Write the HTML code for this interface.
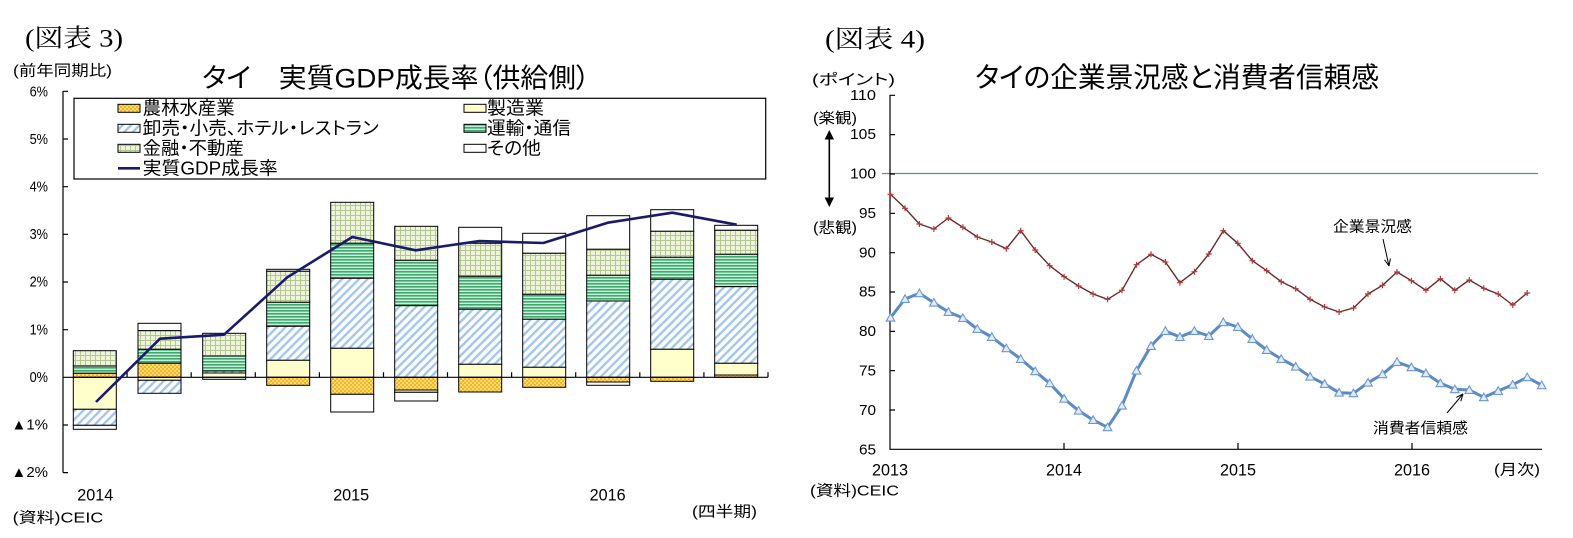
<!DOCTYPE html>
<html><head><meta charset="utf-8">
<style>
body{margin:0;background:#fff}
svg{display:block}
text{font-family:"Liberation Sans","Noto Sans CJK JP",sans-serif;fill:#000;font-feature-settings:"palt"}
.s{font-family:"Liberation Serif","Noto Serif CJK JP",serif}
</style></head>
<body>
<svg width="1573" height="538" viewBox="0 0 1573 538" xmlns="http://www.w3.org/2000/svg">
<defs>
<pattern id="pOr" width="4" height="4" patternUnits="userSpaceOnUse"><rect width="4" height="4" fill="#f2b52c"/><rect width="2" height="2" fill="#fcdc70"/><rect x="2" y="2" width="2" height="2" fill="#fcdc70"/></pattern>
<pattern id="pGr" width="4" height="3" patternUnits="userSpaceOnUse"><rect width="4" height="3" fill="#c8eed8"/><rect y="1" width="4" height="1.6" fill="#3faa70"/></pattern>
<pattern id="pBl" width="6" height="6" patternUnits="userSpaceOnUse" patternTransform="rotate(45)"><rect width="6" height="6" fill="#fff"/><rect width="2.4" height="6" fill="#a3c6ea"/></pattern>
<pattern id="pGd" width="5" height="5" patternUnits="userSpaceOnUse"><rect width="5" height="5" fill="#eef3dc"/><path d="M0 .5H5M.5 0V5" stroke="#b5c790" stroke-width="1"/></pattern>
<marker id="mp" markerWidth="8" markerHeight="8" refX="4" refY="4" markerUnits="userSpaceOnUse"><path d="M1 4H7M4 1V7" stroke="#b33a3a" stroke-width="1.2"/></marker>
<marker id="mt" markerWidth="12" markerHeight="12" refX="6" refY="6" markerUnits="userSpaceOnUse"><path d="M6 1.8L10.3 9.4H1.7Z" fill="#e4ecf7" stroke="#6a98d0" stroke-width="1.1"/></marker>
<marker id="ma" markerWidth="12" markerHeight="12" refX="10" refY="6" orient="auto" markerUnits="userSpaceOnUse"><path d="M10 6L3 3M10 6L3 9" stroke="#000" stroke-width="1" fill="none"/></marker>
</defs>
<rect width="1573" height="538" fill="#fff"/>

<!-- ============ LEFT CHART ============ -->
<text class="s" x="25" y="39" font-size="25" dominant-baseline="central" textLength="98" lengthAdjust="spacingAndGlyphs">(図表 3)</text>
<text x="13" y="71" font-size="15" dominant-baseline="central" textLength="99" lengthAdjust="spacingAndGlyphs">(前年同期比)</text>
<text x="202" y="78.5" font-size="27" dominant-baseline="central" textLength="388" lengthAdjust="spacingAndGlyphs">タイ　実質GDP成長率（供給側）</text>

<!-- y labels -->
<g font-size="15" text-anchor="end" dominant-baseline="central">
<text x="48" y="92" textLength="18.4" lengthAdjust="spacingAndGlyphs">6%</text>
<text x="48" y="139.5" textLength="18.4" lengthAdjust="spacingAndGlyphs">5%</text>
<text x="48" y="187" textLength="18.4" lengthAdjust="spacingAndGlyphs">4%</text>
<text x="48" y="234.5" textLength="18.4" lengthAdjust="spacingAndGlyphs">3%</text>
<text x="48" y="282" textLength="18.4" lengthAdjust="spacingAndGlyphs">2%</text>
<text x="48" y="330" textLength="18.4" lengthAdjust="spacingAndGlyphs">1%</text>
<text x="48" y="377.5" textLength="18.4" lengthAdjust="spacingAndGlyphs">0%</text>
<text x="48" y="425" textLength="36.5" lengthAdjust="spacingAndGlyphs">▲1%</text>
<text x="48" y="472.5" textLength="36.5" lengthAdjust="spacingAndGlyphs">▲2%</text>
</g>

<!-- bars -->
<g stroke="#000" stroke-width="1">
<rect x="73.3" y="350.7" width="43" height="15.3" fill="url(#pGd)"/>
<rect x="73.3" y="366" width="43" height="7.3" fill="url(#pGr)"/>
<rect x="73.3" y="373.3" width="43" height="4" fill="url(#pOr)"/>
<rect x="73.3" y="377.3" width="43" height="32" fill="#ffffcc"/>
<rect x="73.3" y="409.3" width="43" height="16" fill="url(#pBl)"/>
<rect x="73.3" y="425.3" width="43" height="4" fill="#fff"/>

<rect x="138" y="323.3" width="43" height="7.4" fill="#fff"/>
<rect x="138" y="330.7" width="43" height="18.6" fill="url(#pGd)"/>
<rect x="138" y="349.3" width="43" height="14" fill="url(#pGr)"/>
<rect x="138" y="363.3" width="43" height="14" fill="url(#pOr)"/>
<rect x="138" y="377.3" width="43" height="3" fill="#ffffcc"/>
<rect x="138" y="380.3" width="43" height="13" fill="url(#pBl)"/>

<rect x="202.7" y="333.3" width="43" height="22.7" fill="url(#pGd)"/>
<rect x="202.7" y="356" width="43" height="15" fill="url(#pGr)"/>
<rect x="202.7" y="371" width="43" height="2" fill="url(#pBl)"/>
<rect x="202.7" y="373" width="43" height="4.3" fill="#ffffcc"/>
<rect x="202.7" y="377.3" width="43" height="2" fill="#fff"/>

<rect x="266.7" y="269.3" width="43" height="2" fill="#fff"/>
<rect x="266.7" y="271.3" width="43" height="31" fill="url(#pGd)"/>
<rect x="266.7" y="302.3" width="43" height="24" fill="url(#pGr)"/>
<rect x="266.7" y="326.3" width="43" height="34" fill="url(#pBl)"/>
<rect x="266.7" y="360.3" width="43" height="17" fill="#ffffcc"/>
<rect x="266.7" y="377.3" width="43" height="8" fill="url(#pOr)"/>

<rect x="330.7" y="202.3" width="43" height="41" fill="url(#pGd)"/>
<rect x="330.7" y="243.3" width="43" height="35" fill="url(#pGr)"/>
<rect x="330.7" y="278.3" width="43" height="70" fill="url(#pBl)"/>
<rect x="330.7" y="348.3" width="43" height="29" fill="#ffffcc"/>
<rect x="330.7" y="377.3" width="43" height="17" fill="url(#pOr)"/>
<rect x="330.7" y="394.3" width="43" height="17.7" fill="#fff"/>

<rect x="394.7" y="226.3" width="43" height="34" fill="url(#pGd)"/>
<rect x="394.7" y="260.3" width="43" height="45.4" fill="url(#pGr)"/>
<rect x="394.7" y="305.7" width="43" height="71.6" fill="url(#pBl)"/>
<rect x="394.7" y="377.3" width="43" height="12.7" fill="url(#pOr)"/>
<rect x="394.7" y="390" width="43" height="2.3" fill="#ffffcc"/>
<rect x="394.7" y="392.3" width="43" height="8.7" fill="#fff"/>

<rect x="458.7" y="227.3" width="43" height="16" fill="#fff"/>
<rect x="458.7" y="243.3" width="43" height="33" fill="url(#pGd)"/>
<rect x="458.7" y="276.3" width="43" height="33" fill="url(#pGr)"/>
<rect x="458.7" y="309.3" width="43" height="55" fill="url(#pBl)"/>
<rect x="458.7" y="364.3" width="43" height="13" fill="#ffffcc"/>
<rect x="458.7" y="377.3" width="43" height="14.7" fill="url(#pOr)"/>

<rect x="522.7" y="233.3" width="43" height="20" fill="#fff"/>
<rect x="522.7" y="253.3" width="43" height="41" fill="url(#pGd)"/>
<rect x="522.7" y="294.3" width="43" height="25" fill="url(#pGr)"/>
<rect x="522.7" y="319.3" width="43" height="48" fill="url(#pBl)"/>
<rect x="522.7" y="367.3" width="43" height="10" fill="#ffffcc"/>
<rect x="522.7" y="377.3" width="43" height="10" fill="url(#pOr)"/>

<rect x="586.7" y="215.7" width="43" height="33.6" fill="#fff"/>
<rect x="586.7" y="249.3" width="43" height="26" fill="url(#pGd)"/>
<rect x="586.7" y="275.3" width="43" height="25.7" fill="url(#pGr)"/>
<rect x="586.7" y="301" width="43" height="76.3" fill="url(#pBl)"/>
<rect x="586.7" y="377.3" width="43" height="4.7" fill="url(#pOr)"/>
<rect x="586.7" y="382" width="43" height="3.3" fill="#fff"/>

<rect x="650.7" y="209.7" width="43" height="21.6" fill="#fff"/>
<rect x="650.7" y="231.3" width="43" height="26" fill="url(#pGd)"/>
<rect x="650.7" y="257.3" width="43" height="22" fill="url(#pGr)"/>
<rect x="650.7" y="279.3" width="43" height="70" fill="url(#pBl)"/>
<rect x="650.7" y="349.3" width="43" height="28" fill="#ffffcc"/>
<rect x="650.7" y="377.3" width="43" height="4" fill="url(#pOr)"/>

<rect x="714.7" y="225.3" width="43" height="5" fill="#fff"/>
<rect x="714.7" y="230.3" width="43" height="24" fill="url(#pGd)"/>
<rect x="714.7" y="254.3" width="43" height="32.4" fill="url(#pGr)"/>
<rect x="714.7" y="286.7" width="43" height="76.6" fill="url(#pBl)"/>
<rect x="714.7" y="363.3" width="43" height="11.7" fill="#ffffcc"/>
<rect x="714.7" y="375" width="43" height="2.3" fill="url(#pOr)"/>
</g>

<!-- axes -->
<g stroke="#000" stroke-width="1.2" fill="none">
<path d="M63 91V472.6"/>
<path d="M63 91.3H68M63 139H68M63 186.7H68M63 234.3H68M63 282H68M63 329.7H68M63 425H68M63 472.6H68"/>
<path d="M63 377.3H768"/>
<path d="M127.1 372.3V377.3M191.2 372.3V377.3M255.3 372.3V377.3M319.4 372.3V377.3M383.5 372.3V377.3M447.5 372.3V377.3M511.6 372.3V377.3M575.7 372.3V377.3M639.8 372.3V377.3M703.9 372.3V377.3M768 372.3V377.3"/>
</g>

<!-- GDP line -->
<polyline points="96,402 160,338.7 224,334.7 287.3,277.3 352.3,237 415.7,250.3 479.3,241 543.3,243 607.7,222.7 672.3,212.7 736.7,224.7" fill="none" stroke="#1a1a6c" stroke-width="2.6" stroke-linejoin="round"/>

<!-- legend -->
<rect x="74" y="98.3" width="691.7" height="80.7" fill="#fff" stroke="#000" stroke-width="1.2"/>
<g stroke="#000" stroke-width="1">
<rect x="118" y="104.3" width="22" height="8" fill="url(#pOr)"/>
<rect x="118" y="124.3" width="22" height="8" fill="url(#pBl)"/>
<rect x="118" y="144.3" width="22" height="8" fill="url(#pGd)"/>
<rect x="464" y="104.3" width="22" height="8" fill="#ffffcc"/>
<rect x="464" y="124.3" width="22" height="8" fill="url(#pGr)"/>
<rect x="464" y="144.3" width="22" height="8" fill="#fff"/>
</g>
<path d="M118 168.3H140" stroke="#1a1a6c" stroke-width="2.6"/>
<g font-size="18" dominant-baseline="central">
<text x="142.7" y="108.5" textLength="92" lengthAdjust="spacingAndGlyphs">農林水産業</text>
<text x="142.7" y="128.5" textLength="236" lengthAdjust="spacingAndGlyphs">卸売・小売、ホテル・レストラン</text>
<text x="142.7" y="148.5" textLength="101" lengthAdjust="spacingAndGlyphs">金融・不動産</text>
<text x="142.7" y="168.5" textLength="135" lengthAdjust="spacingAndGlyphs">実質GDP成長率</text>
<text x="487" y="108.5" textLength="57" lengthAdjust="spacingAndGlyphs">製造業</text>
<text x="487" y="128.5" textLength="84" lengthAdjust="spacingAndGlyphs">運輸・通信</text>
<text x="487" y="148.5" textLength="54" lengthAdjust="spacingAndGlyphs">その他</text>
</g>

<!-- x labels -->
<g font-size="17" text-anchor="middle" dominant-baseline="central">
<text x="95.3" y="495" textLength="36" lengthAdjust="spacingAndGlyphs">2014</text>
<text x="351.2" y="495" textLength="36" lengthAdjust="spacingAndGlyphs">2015</text>
<text x="607.6" y="495" textLength="36" lengthAdjust="spacingAndGlyphs">2016</text>
</g>
<text x="692" y="512" font-size="15" dominant-baseline="central" textLength="65" lengthAdjust="spacingAndGlyphs">(四半期)</text>
<text x="12.7" y="518" font-size="15" dominant-baseline="central" textLength="90.6" lengthAdjust="spacingAndGlyphs">(資料)CEIC</text>

<!-- ============ RIGHT CHART ============ -->
<text class="s" x="825" y="40" font-size="25" dominant-baseline="central" textLength="100" lengthAdjust="spacingAndGlyphs">(図表 4)</text>
<text x="975" y="77.5" font-size="28" dominant-baseline="central" textLength="404" lengthAdjust="spacingAndGlyphs">タイの企業景況感と消費者信頼感</text>
<text x="812" y="80" font-size="15" dominant-baseline="central" textLength="83" lengthAdjust="spacingAndGlyphs">(ポイント)</text>
<text x="813" y="118.5" font-size="15" dominant-baseline="central" textLength="44" lengthAdjust="spacingAndGlyphs">(楽観)</text>
<text x="813" y="228" font-size="15" dominant-baseline="central" textLength="44" lengthAdjust="spacingAndGlyphs">(悲観)</text>
<path d="M829.3 138V199" stroke="#000" stroke-width="1.6"/>
<path d="M829.3 130L834 139.5H824.6Z M829.3 207L834 197.5H824.6Z" fill="#000"/>

<g font-size="15" text-anchor="end" dominant-baseline="central">
<text x="876" y="95.5" textLength="26" lengthAdjust="spacingAndGlyphs">110</text>
<text x="876" y="134.5" textLength="26" lengthAdjust="spacingAndGlyphs">105</text>
<text x="876" y="174" textLength="26" lengthAdjust="spacingAndGlyphs">100</text>
<text x="876" y="213.5" textLength="17" lengthAdjust="spacingAndGlyphs">95</text>
<text x="876" y="253" textLength="17" lengthAdjust="spacingAndGlyphs">90</text>
<text x="876" y="292" textLength="17" lengthAdjust="spacingAndGlyphs">85</text>
<text x="876" y="331.5" textLength="17" lengthAdjust="spacingAndGlyphs">80</text>
<text x="876" y="371" textLength="17" lengthAdjust="spacingAndGlyphs">75</text>
<text x="876" y="410.5" textLength="17" lengthAdjust="spacingAndGlyphs">70</text>
<text x="876" y="450" textLength="17" lengthAdjust="spacingAndGlyphs">65</text>
</g>

<path d="M882 173.5H1538" stroke="#6a8798" stroke-width="1.3"/>

<g stroke="#000" stroke-width="1.2" fill="none">
<path d="M890 95V449.3H1542"/>
<path d="M890 95.3H895M890 134.6H895M890 174H895M890 213.3H895M890 252.7H895M890 292H895M890 331.4H895M890 370.7H895M890 410H895"/>
<path d="M1064 443V449.3M1238 443V449.3M1412 443V449.3"/>
</g>

<polyline points="890.5,194.3 905,208.3 919.4,224 933.9,229 948.4,218 962.9,227.3 977.3,237 991.8,242 1006.3,248.7 1020.7,230.7 1035.2,250 1049.7,265.7 1064.1,276.7 1078.6,286 1093.1,294 1107.6,299.3 1122,290.3 1136.5,264.7 1151,254.3 1165.4,262 1179.9,282.7 1194.4,271.7 1208.8,254 1223.3,230.7 1237.8,243.3 1252.3,260.7 1266.7,270.7 1281.2,281.7 1295.7,288.7 1310.1,299.3 1324.6,307 1339.1,312 1353.5,308 1368,294 1382.5,285.3 1397,272 1411.4,280.7 1425.9,290.3 1440.4,278.7 1454.8,290.3 1469.3,280 1483.8,288.3 1498.2,294 1512.7,305 1527.2,293" fill="none" stroke="#6a2a2a" stroke-width="1.4" stroke-linejoin="round" marker-start="url(#mp)" marker-mid="url(#mp)" marker-end="url(#mp)"/>

<polyline points="890.5,317.7 905,299 919.4,293.3 933.9,302.7 948.4,312 962.9,318 977.3,329 991.8,337 1006.3,348.3 1020.7,359 1035.2,371.3 1049.7,383.3 1064.1,398.7 1078.6,410.7 1093.1,420 1107.6,427.3 1122,405.7 1136.5,370.7 1151,346 1165.4,331 1179.9,337 1194.4,331 1208.8,336 1223.3,322.3 1237.8,327 1252.3,339 1266.7,350 1281.2,359 1295.7,366.7 1310.1,376.7 1324.6,384 1339.1,392.7 1353.5,393.3 1368,382.7 1382.5,374.3 1397,362 1411.4,367.3 1425.9,373.3 1440.4,383.3 1454.8,389.3 1469.3,390 1483.8,397.3 1498.2,391 1512.7,384.7 1527.2,377.3 1541.7,385.3" fill="none" stroke="#5b8ac6" stroke-width="3" stroke-linejoin="round" marker-start="url(#mt)" marker-mid="url(#mt)" marker-end="url(#mt)"/>

<text x="1333" y="227" font-size="15" dominant-baseline="central" textLength="79" lengthAdjust="spacingAndGlyphs">企業景況感</text>
<path d="M1383 239L1389 266" stroke="#000" stroke-width="1" marker-end="url(#ma)"/>
<text x="1373" y="428.5" font-size="15" dominant-baseline="central" textLength="95" lengthAdjust="spacingAndGlyphs">消費者信頼感</text>
<path d="M1447 413L1463 394" stroke="#000" stroke-width="1" marker-end="url(#ma)"/>

<g font-size="17" text-anchor="middle" dominant-baseline="central">
<text x="890" y="470" textLength="36" lengthAdjust="spacingAndGlyphs">2013</text>
<text x="1064" y="470" textLength="36" lengthAdjust="spacingAndGlyphs">2014</text>
<text x="1238" y="470" textLength="36" lengthAdjust="spacingAndGlyphs">2015</text>
<text x="1412" y="470" textLength="36" lengthAdjust="spacingAndGlyphs">2016</text>
</g>
<text x="1494" y="470" font-size="15" dominant-baseline="central" textLength="46" lengthAdjust="spacingAndGlyphs">(月次)</text>
<text x="810" y="491" font-size="15" dominant-baseline="central" textLength="89" lengthAdjust="spacingAndGlyphs">(資料)CEIC</text>
</svg>
</body></html>
